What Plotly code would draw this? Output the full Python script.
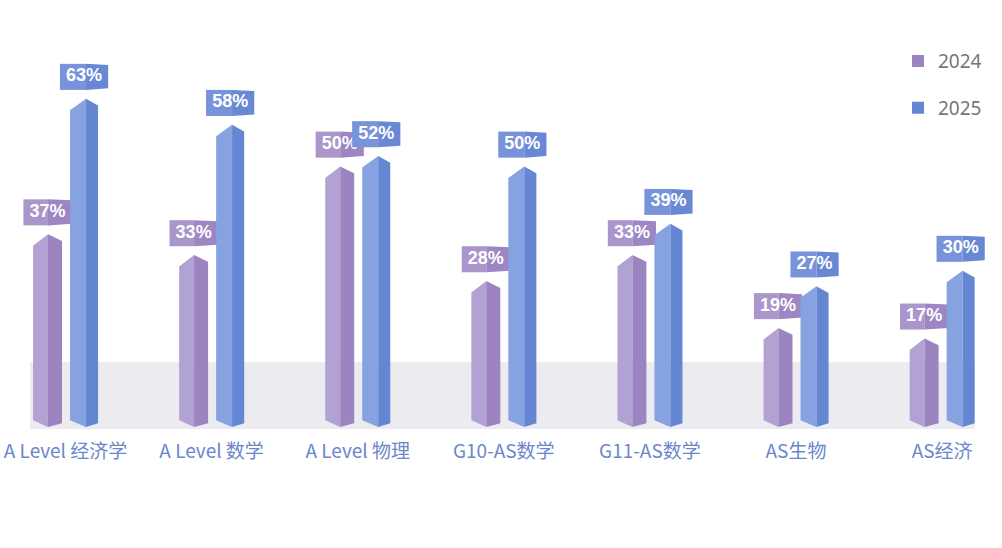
import plotly.graph_objects as go

categories = ["A Level 经济学", "A Level 数学", "A Level 物理", "G10-AS数学", "G11-AS数学", "AS生物", "AS经济"]
years = ["2024", "2025"]
rate_2024 = [37, 33, 50, 28, 33, 19, 17]
rate_2025 = [63, 58, 52, 50, 39, 27, 30]

# bar geometry in axis units (one category = 1 unit)
bar_pos = {"2024": (-0.222, -0.120, -0.024), "2025": (0.031, 0.140, 0.223)}
face_colors = {"2024": ("#b2a1d3", "#9c84c1"), "2025": ("#87a2e0", "#6586d3")}
box_colors = {"2024": ("#ab96cc", "#9d86c3"), "2025": ("#7893da", "#6888d4")}
top_drop = (2.2, 1.3)
bottom_rise = (1.3, 0.7)
box_w = 0.165
box_gap = 1.7
box_h = 5.0

fig = go.Figure()

# grey floor band
fig.add_shape(type="rect", x0=-0.243, x1=6.225, y0=-0.4, y1=12.5,
              fillcolor="#ebebf0", line_width=0, layer="below")

for year, vals in zip(years, [rate_2024, rate_2025]):
    left, fold, right = bar_pos[year]
    light, dark = face_colors[year]
    blight, bdark = box_colors[year]
    for i, v in enumerate(vals):
        xl, xf, xr = i + left, i + fold, i + right
        # left face
        fig.add_trace(go.Scatter(
            x=[xl, xf, xf, xl, xl], y=[v - top_drop[0], v, 0, bottom_rise[0], v - top_drop[0]],
            fill="toself", fillcolor=light, mode="lines", line=dict(width=0),
            hoverinfo="skip", showlegend=False))
        # right face
        fig.add_trace(go.Scatter(
            x=[xf, xr, xr, xf, xf], y=[v, v - top_drop[1], bottom_rise[1], 0, v],
            fill="toself", fillcolor=dark, mode="lines", line=dict(width=0),
            hoverinfo="skip", showlegend=False))
        # value box
        xc = (xl + xr) / 2
        b0 = v + box_gap
        b1 = b0 + box_h
        fig.add_trace(go.Scatter(
            x=[xc - box_w, xf, xf, xc - box_w, xc - box_w], y=[b0, b0, b1, b1, b0],
            fill="toself", fillcolor=blight, mode="lines", line=dict(width=0),
            hoverinfo="skip", showlegend=False))
        fig.add_trace(go.Scatter(
            x=[xf, xc + box_w, xc + box_w, xf, xf], y=[b0, b0 + 0.3, b1 - 0.2, b1, b0],
            fill="toself", fillcolor=bdark, mode="lines", line=dict(width=0),
            hoverinfo="skip", showlegend=False))
        fig.add_trace(go.Scatter(
            x=[xc], y=[(b0 + b1) / 2], mode="text", text=[f"{v}%"],
            textfont=dict(family="Liberation Sans", size=18, color="white", weight="bold"),
            hoverinfo="skip", showlegend=False))

# legend entries
for year in years:
    fig.add_trace(go.Scatter(
        x=[None], y=[None], mode="markers", name=year, legendgroup=year,
        marker=dict(symbol="square", size=12, color=face_colors[year][1])))

fig.update_layout(
    width=1002, height=548,
    margin=dict(l=0, r=0, t=0, b=118),
    paper_bgcolor="white", plot_bgcolor="white",
    showlegend=True,
    legend=dict(x=0.8962, y=0.902, xanchor="left", yanchor="top",
                font=dict(family="Noto Sans", size=19, color="#777777"),
                tracegroupgap=19, itemsizing="constant", bgcolor="rgba(0,0,0,0)"),
    xaxis=dict(range=[-0.4483, 6.410], tickvals=list(range(len(categories))), ticktext=categories,
               showgrid=False, zeroline=False, showline=False, ticks="",
               ticklabelstandoff=8, ticklabeloverflow="allow", automargin=False,
               tickfont=dict(family="Noto Sans CJK SC", size=19, color="#6a87cc")),
    yaxis=dict(range=[-0.576, 81.96], showgrid=False, zeroline=False, showline=False,
               showticklabels=False, ticks="", automargin=False),
)

# drop the default page margin so the figure sits at the window corner
fig.write_html("out.html", config={"displayModeBar": False},
               post_script="document.body.style.margin='0';document.body.style.overflow='hidden';")
